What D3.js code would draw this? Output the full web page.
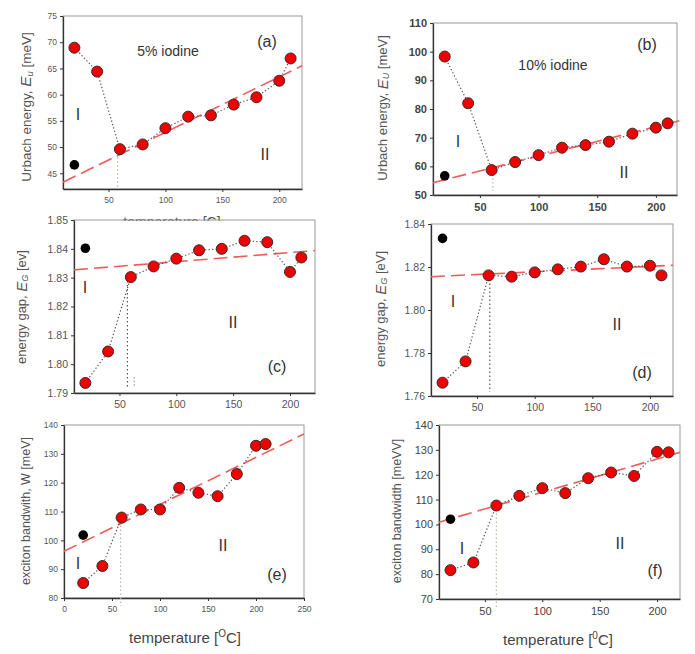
<!DOCTYPE html>
<html><head><meta charset="utf-8">
<script src="https://cdn.jsdelivr.net/npm/d3@7"></script>
<style>body{margin:0;background:#fff}svg{display:block}text{font-family:"Liberation Sans",Arial,sans-serif}</style>
</head><body>
<script>
// ---- data ----
const temps = [20, 40, 60, 80, 100, 120, 140, 160, 180, 200, 210];
const urbach5 = [68.95, 64.4, 49.6, 50.5, 53.6, 55.8, 56.05, 58.1, 59.5, 62.65, 66.9];
const urbach10 = [98.3, 82, 58.7, 61.5, 63.9, 66.5, 67.4, 68.6, 71.4, 73.5, 75];
const gap5 = [1.7935, 1.8044, 1.8302, 1.8339, 1.8366, 1.8395, 1.8400, 1.8428, 1.8423, 1.8320, 1.8370];
const gap10 = [1.7662, 1.7761, 1.8161, 1.8155, 1.8175, 1.8189, 1.8202, 1.8236, 1.8202, 1.8206, 1.8161];
const band5 = [85.2, 91.1, 107.9, 110.7, 110.7, 118.2, 116.5, 115.3, 123, 132.8, 133.4];
const band10 = [81.6, 84.7, 107.6, 111.5, 114.6, 112.6, 118.6, 120.9, 119.5, 129.2, 129];
const refX = 20;
const refValues = [46.6, 56.7, 1.8402, 1.8333, 101.8, 102.1];
// fitted straight lines: [x0, y0, x1, y1]
const fits = [
  [10, 43.3, 220, 65.5],
  [10, 54.3, 220, 75.9],
  [10, 1.8327, 222, 1.8394],
  [10, 1.8155, 220, 1.8208],
  [0, 96.2, 250, 136.9],
  [10, 100.9, 220, 129]
];
const breakT = [58, 61, 57, 61, 59, 60];
const xTicksStd = [50, 100, 150, 200];
const xTicksE = [0, 50, 100, 150, 200, 250];
const yTicksA = [45, 50, 55, 60, 65, 70, 75];
const yTicksB = [50, 60, 70, 80, 90, 100, 110];
const yTicksC = [1.79, 1.80, 1.81, 1.82, 1.83, 1.84, 1.85];
const yTicksD = [1.76, 1.78, 1.80, 1.82, 1.84];
const yTicksE = [80, 90, 100, 110, 120, 130, 140];
const yTicksF = [70, 80, 90, 100, 110, 120, 130, 140];

const panels = [
  {vals: urbach5, box: [63, 16, 302, 189], xd: [10, 220], yd: [42, 75], xt: xTicksStd, yt: yTicksA, fmt: d3.format("d"), tfs: 8.5, tcol: "#555", tw: "normal",
   ylab: ["Urbach energy,  ", "E", "u", " [meV]"], ylx: 27, yly: 107, ylfs: 13.5,
   tag: "(a)", tagxy: [267, 47], label1: [78, 120], label2: [265, 160], note: ["5% iodine", 168, 56]},
  {vals: urbach10, box: [433, 23, 677, 195], xd: [10, 218], yd: [50, 110], xt: xTicksStd, yt: yTicksB, fmt: d3.format("d"), tfs: 11, tcol: "#444", tw: "bold",
   ylab: ["Urbach energy, ", "E", "U", " [meV]"], ylx: 384, yly: 108, ylfs: 13,
   tag: "(b)", tagxy: [647, 50], label1: [458, 147], label2: [624, 178], note: ["10% iodine", 553, 70]},
  {vals: gap5, box: [74, 220, 315, 393], xd: [10, 222], yd: [1.79, 1.85], xt: xTicksStd, yt: yTicksC, fmt: d3.format(".2f"), tfs: 10.5, tcol: "#555", tw: "normal",
   ylab: ["energy gap, ", "E", "G", " [ev]"], ylx: 23, yly: 307, ylfs: 13,
   tag: "(c)", tagxy: [277, 372], label1: [85, 293], label2: [233, 328]},
  {vals: gap10, box: [431, 224, 673, 396], xd: [10, 220], yd: [1.76, 1.84], xt: xTicksStd, yt: yTicksD, fmt: d3.format(".2f"), tfs: 10.5, tcol: "#555", tw: "normal",
   ylab: ["energy gap, ", "E", "G", " [eV]"], ylx: 382, yly: 309, ylfs: 13,
   tag: "(d)", tagxy: [642, 378], label1: [453, 307], label2: [617, 330]},
  {vals: band5, box: [64, 425, 304, 598], xd: [0, 250], yd: [80, 140], xt: xTicksE, yt: yTicksE, fmt: d3.format("d"), tfs: 8.5, tcol: "#555", tw: "normal",
   ylab: ["exciton bandwith, W [meV]"], ylx: 27, yly: 511, ylfs: 12.5,
   tag: "(e)", tagxy: [277, 580], label1: [78, 569], label2: [223, 551],
   xlab: ["temperature [", "O", "C]"], xlx: 185, xly: 643},
  {vals: band10, box: [439, 425, 680, 599], xd: [10, 220], yd: [70, 140], xt: xTicksStd, yt: yTicksF, fmt: d3.format("d"), tfs: 11, tcol: "#444", tw: "normal",
   ylab: ["exciton bandwidth [meVV]"], ylx: 398, yly: 511, ylfs: 12.5,
   tag: "(f)", tagxy: [655, 576], label1: [462, 554], label2: [620, 549],
   xlab: ["temperature [", "0", "C]"], xlx: 558, xly: 645}
];

const svg = d3.select("body").append("svg").attr("width", 695).attr("height", 654);

// panel (a) x label, partly hidden under panel (c)
svg.append("clipPath").attr("id", "clipA").append("rect").attr("x", 0).attr("y", 0).attr("width", 695).attr("height", 221);
svg.append("text").attr("x", 172).attr("y", 227).attr("text-anchor", "middle").attr("font-size", 14).attr("fill", "#555")
  .attr("clip-path", "url(#clipA)").text("temperature [C]");

panels.forEach((p, i) => {
  const [L, T, R, B] = p.box;
  const x = d3.scaleLinear().domain(p.xd).range([L, R]);
  const y = d3.scaleLinear().domain(p.yd).range([B, T]);
  const g = svg.append("g");

  // frame
  g.append("rect").attr("x", L).attr("y", T).attr("width", R - L).attr("height", B - T)
    .attr("fill", "none").attr("stroke", "#9a9a9a").attr("stroke-width", 1);

  // axes
  const xa = g.append("g").attr("transform", `translate(0,${B})`)
    .call(d3.axisBottom(x).tickValues(p.xt).tickSize(3).tickSizeOuter(0).tickFormat(d3.format("d")));
  const ya = g.append("g").attr("transform", `translate(${L},0)`)
    .call(d3.axisLeft(y).tickValues(p.yt).tickSize(3).tickSizeOuter(0).tickFormat(p.fmt));
  [xa, ya].forEach(a => {
    a.select(".domain").attr("stroke", "#333").attr("stroke-width", 1.3);
    a.selectAll(".tick line").attr("stroke", "#333");
    a.selectAll("text").attr("font-size", p.tfs).attr("fill", p.tcol).attr("font-weight", p.tw)
      .attr("font-family", "'Liberation Sans', Arial, sans-serif");
  });
  xa.selectAll("text").attr("dy", "0.9em");

  // vertical dotted break line
  const bt = breakT[i];
  g.append("line").attr("x1", x(bt)).attr("x2", x(bt))
    .attr("y1", y(p.vals[2])).attr("y2", i === 0 ? B : B + (i >= 4 ? 8 : -4))
    .attr("stroke", i === 2 || i === 3 ? "#555" : "#b8bca8").attr("stroke-width", 1.2).attr("stroke-dasharray", "1.5,2.5");
  if (i === 2) {
    g.append("line").attr("x1", x(63)).attr("x2", x(63)).attr("y1", y(1.7955)).attr("y2", y(1.7925))
      .attr("stroke", "#888").attr("stroke-width", 1).attr("stroke-dasharray", "1.5,2");
  }

  // fitted dashed line
  const f = fits[i];
  g.append("line").attr("x1", x(f[0])).attr("y1", y(f[1])).attr("x2", x(f[2])).attr("y2", y(f[3]))
    .attr("stroke", "#f25a5a").attr("stroke-width", 1.6).attr("stroke-dasharray", "14,6");

  // dotted connecting line
  const line = d3.line().x((d, k) => x(temps[k])).y(d => y(d));
  g.append("path").attr("d", line(p.vals)).attr("fill", "none")
    .attr("stroke", "#555").attr("stroke-width", 1.2).attr("stroke-dasharray", "1.3,2.2");

  // markers
  g.selectAll("circle.pt").data(p.vals).join("circle").attr("class", "pt")
    .attr("cx", (d, k) => x(temps[k])).attr("cy", d => y(d)).attr("r", 5.5)
    .attr("fill", "#ee0000").attr("stroke", "#3a2a2a").attr("stroke-width", 1);
  g.append("circle").attr("cx", x(refX)).attr("cy", y(refValues[i])).attr("r", 4.8).attr("fill", "#000");

  // y label
  const yl = g.append("text").attr("transform", `translate(${p.ylx},${p.yly}) rotate(-90)`)
    .attr("text-anchor", "middle").attr("dominant-baseline", "middle")
    .attr("font-size", p.ylfs).attr("fill", "#555");
  if (p.ylab.length === 1) {
    yl.text(p.ylab[0]);
  } else {
    yl.append("tspan").text(p.ylab[0]);
    yl.append("tspan").attr("font-style", "italic").attr("font-size", p.ylfs * 1.15).text(p.ylab[1]);
    yl.append("tspan").attr("font-style", "italic").attr("font-size", p.ylfs * 0.7).attr("dy", "0.35em").text(p.ylab[2]);
    yl.append("tspan").attr("dy", "-0.25em").text(p.ylab[3]);
  }

  // x label
  if (p.xlab) {
    const xl = g.append("text").attr("x", p.xlx).attr("y", p.xly).attr("text-anchor", "middle")
      .attr("font-size", 15).attr("fill", "#444");
    xl.append("tspan").text(p.xlab[0]);
    xl.append("tspan").attr("font-size", 10).attr("dy", "-0.6em").text(p.xlab[1]);
    xl.append("tspan").attr("dy", "0.4em").text(p.xlab[2]);
  }

  // annotations
  g.append("text").attr("x", p.tagxy[0]).attr("y", p.tagxy[1]).attr("text-anchor", "middle")
    .attr("font-size", 16).attr("fill", "#333").text(p.tag);
  g.append("text").attr("x", p.label1[0]).attr("y", p.label1[1]).attr("text-anchor", "middle")
    .attr("font-size", 16).attr("fill", "#333").text("I");
  g.append("text").attr("x", p.label2[0]).attr("y", p.label2[1]).attr("text-anchor", "middle")
    .attr("font-size", 16).attr("fill", "#333").text("II");
  if (p.note) {
    g.append("text").attr("x", p.note[1]).attr("y", p.note[2]).attr("text-anchor", "middle")
      .attr("font-size", 14).attr("fill", "#333").text(p.note[0]);
  }
});
</script>
</body></html>
